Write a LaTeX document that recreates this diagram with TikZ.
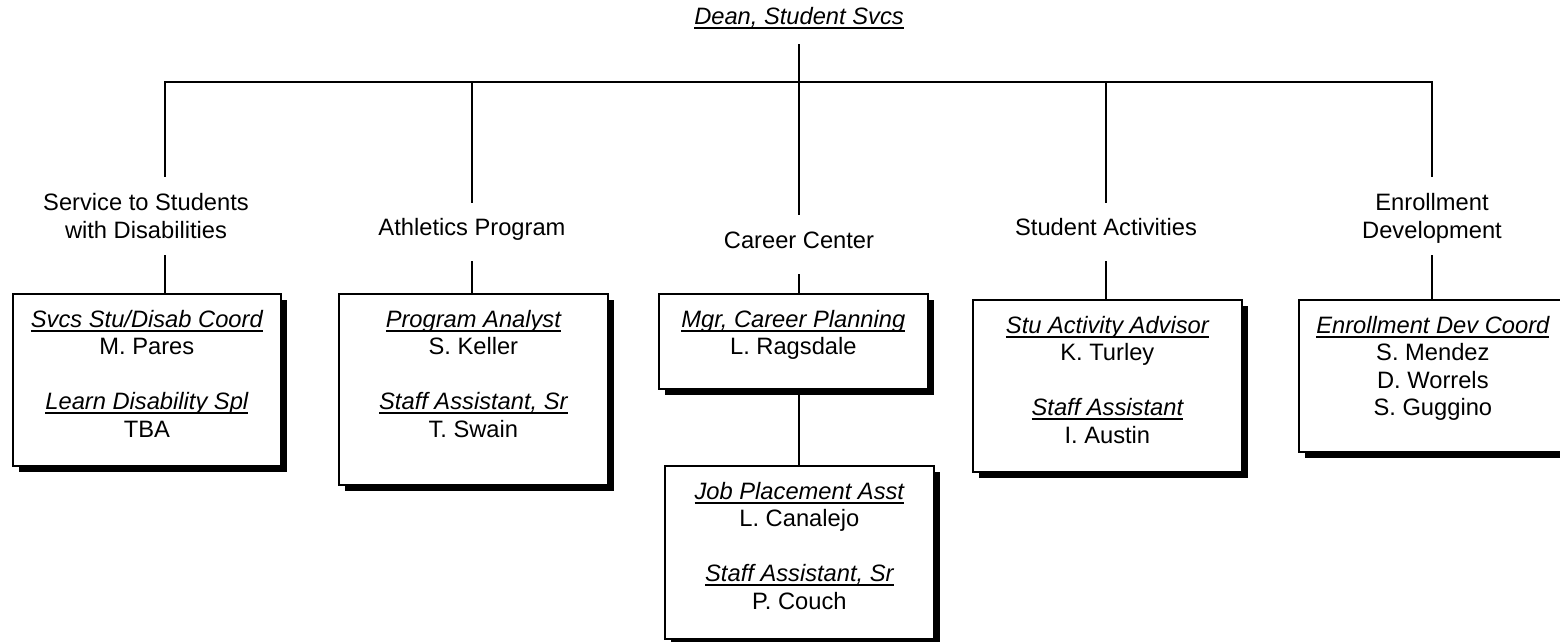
\documentclass[tikz,border=0pt]{standalone}
\usepackage{fontspec}
\setmainfont{Liberation Sans}
\usetikzlibrary{shadows}
\newcommand{\sq}{\rule[-5.25pt]{0pt}{27.5pt}}
\newcommand{\undl}[1]{\setbox0\hbox{\itshape #1}\rlap{\rule[-4.4pt]{\wd0}{1.8pt}}\box0}
\newcommand{\bx}[3]{\parbox[c][#2pt][t]{#1pt}{\fontsize{23.7}{27.5}\selectfont\centering\vspace*{11pt}#3\par}}
\tikzset{
  orgbox/.style={draw, line width=1.7pt, inner sep=0pt, fill=white, anchor=north west,
    drop shadow={shadow xshift=6.5pt, shadow yshift=-6.5pt, opacity=1, fill=black}},
  lab/.style={inner sep=0pt, align=center, font=\fontsize{23.7}{27.5}\selectfont},
  conn/.style={line width=1.7pt}
}
\begin{document}
\begin{tikzpicture}[x=1pt, y=-1pt]
\useasboundingbox (0,0) rectangle (1560,642);
\clip (0,0) rectangle (1560,642);
\fill[white] (0,0) rectangle (1560,642);

% top
\node[lab, anchor=base, text height=17pt, text depth=19.5pt] (dean) at (799,24.5) {\undl{Dean, Student Svcs}};
\coordinate (bus) at (799,82);

% branch labels
\node[lab, minimum height=78pt] (l1) at (146,216) {\sq Service to Students\\\sq with Disabilities};
\node[lab, anchor=base, text height=32.5pt, text depth=25.5pt] (l2) at (472,235.5) {Athletics Program};
\node[lab, anchor=base, text height=33.5pt, text depth=25.5pt] (l3) at (799,248.5) {Career Center};
\node[lab, anchor=base, text height=32.5pt, text depth=25.5pt] (l4) at (1106,235.5) {Student Activities};
\node[lab, minimum height=78pt] (l5) at (1432,216) {\sq Enrollment\\\sq Development};

% boxes
\node[orgbox] (b1) at (12,293) {\bx{268}{172}{\sq\undl{Svcs Stu/Disab Coord}\\\sq M. Pares\\\sq\\\sq\undl{Learn Disability Spl}\\\sq TBA}};
\node[orgbox] (b2) at (338,293) {\bx{269}{191}{\sq\undl{Program Analyst}\\\sq S. Keller\\\sq\\\sq\undl{Staff Assistant, Sr}\\\sq T. Swain}};
\node[orgbox] (b3) at (658,293) {\bx{269}{95}{\sq\undl{Mgr, Career Planning}\\\sq L. Ragsdale}};
\node[orgbox] (b4) at (664,465) {\bx{269}{173}{\sq\undl{Job Placement Asst}\\\sq L. Canalejo\\\sq\\\sq\undl{Staff Assistant, Sr}\\\sq P. Couch}};
\node[orgbox] (b5) at (972,299) {\bx{269}{172}{\sq\undl{Stu Activity Advisor}\\\sq K. Turley\\\sq\\\sq\undl{Staff Assistant}\\\sq I. Austin}};
\node[orgbox] (b6) at (1298,299) {\bx{268}{152}{\sq\undl{Enrollment Dev Coord}\\\sq S. Mendez\\\sq D. Worrels\\\sq S. Guggino}};

% connectors
\draw[conn] (dean.south) -- (dean.south |- bus);
\draw[conn] ([xshift=19pt]l1.north) -- ([xshift=19pt]l1.north |- bus) -- (l5.north |- bus) -- (l5.north);
\draw[conn] (l2.north) -- (l2.north |- bus);
\draw[conn] (l3.north) -- (l3.north |- bus);
\draw[conn] (l4.north) -- (l4.north |- bus);
\draw[conn] ([xshift=19pt]l1.south) -- ([xshift=19pt]l1.south |- b1.north);
\draw[conn] (l2.south) -- (l2.south |- b2.north);
\draw[conn] (l3.south) -- (l3.south |- b3.north);
\draw[conn] (l4.south) -- (l4.south |- b5.north);
\draw[conn] (l5.south) -- (l5.south |- b6.north);
\draw[conn] (l3.south |- b3.south) -- (l3.south |- b4.north);
\end{tikzpicture}
\end{document}
